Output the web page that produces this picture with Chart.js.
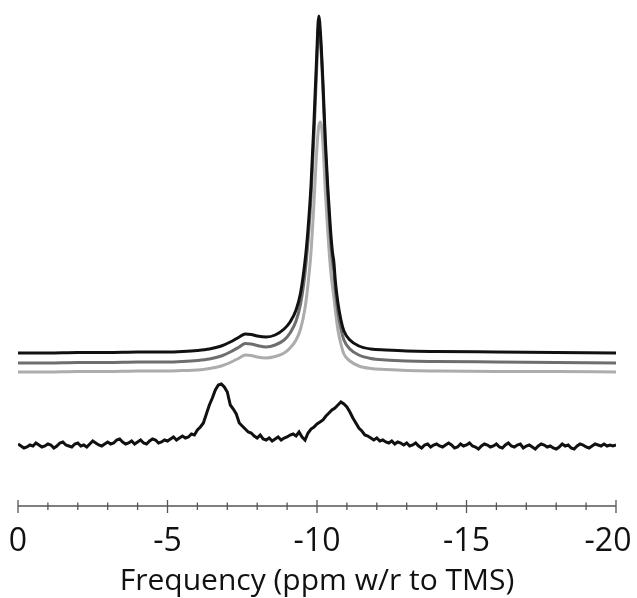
<!DOCTYPE html>
<html>
<head>
<meta charset="utf-8">
<script src="https://cdn.jsdelivr.net/npm/chart.js@4.4.1/dist/chart.umd.min.js"></script>
<style>
  html, body { margin: 0; padding: 0; background: #fff; }
  #wrap { width: 637px; height: 598px; }
</style>
</head>
<body>
<div id="wrap"><canvas id="myChart" width="637" height="598"></canvas></div>
<script>
// ppm positions for the three stacked spectra (upper traces)
const topPpm = [0, -1, -2, -3, -4, -5, -5.5, -6, -6.4, -6.8, -7.1, -7.4, -7.6, -7.8, -8.0, -8.3, -8.6, -8.9,
  -9.1, -9.3, -9.45, -9.6, -9.7, -9.8, -9.9, -9.98, -10.06, -10.12, -10.2, -10.28, -10.36, -10.45, -10.52,
  -10.56, -10.62, -10.7, -10.8, -10.9, -11.1, -11.4, -11.8, -12.3, -13, -14, -16, -18, -20]

// intensities above each trace's own baseline
const blackSpec = [0, 0, 0.5, 0.5, 1, 1, 1.5, 2.5, 4, 7, 11, 16, 19, 18.5, 17, 16, 18, 24,
  31, 43, 60, 92, 124, 168, 232, 290, 337, 318, 270, 212, 166, 124, 100,
  92, 70, 50, 33, 22, 13, 7, 4, 3, 2, 1.5, 1, 0.5, 0]
const darkSpec = [0, 0, 0.5, 0.5, 1, 1, 1.5, 2.5, 4, 7, 11, 16, 19.5, 19, 17.5, 16, 18, 23,
  30, 42, 59, 90, 122, 166, 229, 288, 338, 321, 273, 214, 168, 125, 101,
  93, 71, 51, 34, 23, 14, 8, 4.5, 3, 2, 1.5, 1, 0.5, 0]
const lightSpec = [0, 0, 0.5, 0.5, 1, 1, 1.5, 2, 3.5, 6, 9.5, 14, 17, 16.5, 15, 14, 15.5, 19,
  24, 32, 43, 64, 88, 120, 170, 216, 246, 250, 228, 180, 140, 104, 85,
  76, 60, 42, 28, 18, 11, 6, 3.5, 2.5, 1.5, 1, 0.5, 0.5, 0]

// vertical offsets of the stacked traces
const offsets = [153, 143, 134]

// bottom (noisy) spectrum, one value every 0.1 ppm from 0 to -20
const lowStart = 0
const lowStep = -0.1
const lowSpec = [
  62, 60, 58, 59, 61, 60, 63, 61, 59, 60,
  62, 61, 58, 60, 63, 64, 61, 60, 59, 62,
  63, 60, 61, 59, 62, 65, 63, 61, 60, 62,
  64, 62, 63, 66, 67, 64, 62, 63, 65, 62,
  64, 66, 63, 62, 65, 67, 66, 63, 64, 66,
  65, 67, 69, 66, 68, 70, 68, 69, 72, 71,
  76, 79, 83, 92, 101, 108, 116, 121, 122, 119,
  114, 101, 97, 92, 83, 80, 77, 74, 73, 70,
  68, 71, 67, 66, 68, 65, 67, 69, 66, 68,
  69, 71, 72, 70, 74, 69, 66, 73, 77, 79,
  82, 84, 86, 90, 93, 96, 98, 101, 104, 102,
  99, 94, 88, 83, 78, 75, 71, 70, 68, 66,
  68, 65, 66, 64, 63, 65, 62, 64, 63, 61,
  63, 60, 61, 63, 60, 58, 61, 62, 59, 61,
  62, 60, 59, 61, 63, 61, 58, 59, 62, 60,
  61, 63, 60, 59, 57, 60, 62, 61, 59, 60,
  62, 59, 58, 61, 63, 60, 59, 61, 62, 58,
  60, 61, 59, 57, 60, 62, 61, 59, 60, 58,
  57, 59, 62, 60, 61, 58, 57, 60, 62, 61,
  59, 58, 60, 62, 61, 60, 62, 60, 61, 60,
  61]

const xTicksMajor = [0, -5, -10, -15, -20]
const xTitle = 'Frequency (ppm w/r to TMS)'

function stacked(spec, off) {
  return topPpm.map((p, i) => ({ x: p, y: spec[i] + off }))
}
const lowData = lowSpec.map((v, i) => ({ x: lowStart + i * lowStep, y: v }))

// axis line with ticks crossing it (major every 5, minor every 1)
const axisPlugin = {
  id: 'axisPlugin',
  afterDraw(chart) {
    const xs = chart.scales.x
    const y0 = chart.chartArea.bottom
    const ctx = chart.ctx
    ctx.save()
    ctx.strokeStyle = '#555'
    ctx.lineWidth = 1.3
    ctx.beginPath()
    ctx.moveTo(xs.getPixelForValue(0), y0)
    ctx.lineTo(xs.getPixelForValue(-20), y0)
    for (let v = 0; v >= -20; v--) {
      const px = xs.getPixelForValue(v)
      const major = xTicksMajor.includes(v)
      ctx.moveTo(px, y0 - (major ? 6 : 3.5))
      ctx.lineTo(px, y0 + (major ? 7 : 4))
    }
    ctx.stroke()
    ctx.restore()
  }
}

const ctx = document.getElementById('myChart').getContext('2d')
new Chart(ctx, {
  type: 'line',
  data: {
    datasets: [
      { data: stacked(blackSpec, offsets[0]), borderColor: '#111', borderWidth: 3, cubicInterpolationMode: 'monotone' },
      { data: stacked(darkSpec, offsets[1]), borderColor: '#6e6e6e', borderWidth: 3, cubicInterpolationMode: 'monotone' },
      { data: stacked(lightSpec, offsets[2]), borderColor: '#acacac', borderWidth: 3, cubicInterpolationMode: 'monotone' },
      { data: lowData, borderColor: '#111', borderWidth: 3, tension: 0 }
    ]
  },
  options: {
    responsive: false,
    animation: false,
    events: [],
    elements: { point: { radius: 0 } },
    layout: { padding: { left: 18, right: 21, top: 0, bottom: 1 } },
    plugins: { legend: { display: false }, tooltip: { enabled: false } },
    scales: {
      x: {
        type: 'linear',
        min: -20,
        max: 0,
        reverse: true,
        afterFit: s => { s.paddingLeft = 0; s.paddingRight = 0 },
        grid: { display: false, drawTicks: false },
        border: { display: false },
        ticks: {
          stepSize: 1,
          autoSkip: false,
          maxRotation: 0,
          padding: 26,
          color: '#111',
          font: { family: 'Open Sans', size: 32, lineHeight: 0.625 },
          // last label nudged inside the canvas with a trailing en space
          callback: v => !xTicksMajor.includes(v) ? '' : (v === -20 ? String(v) + '\u2002' : String(v))
        },
        title: {
          display: true,
          text: xTitle,
          color: '#111',
          font: { family: 'Open Sans', size: 30, lineHeight: 1 },
          padding: { top: -12, bottom: 1 }
        }
      },
      y: {
        display: false,
        min: 0,
        max: 506
      }
    }
  },
  plugins: [axisPlugin]
})
</script>
</body>
</html>
